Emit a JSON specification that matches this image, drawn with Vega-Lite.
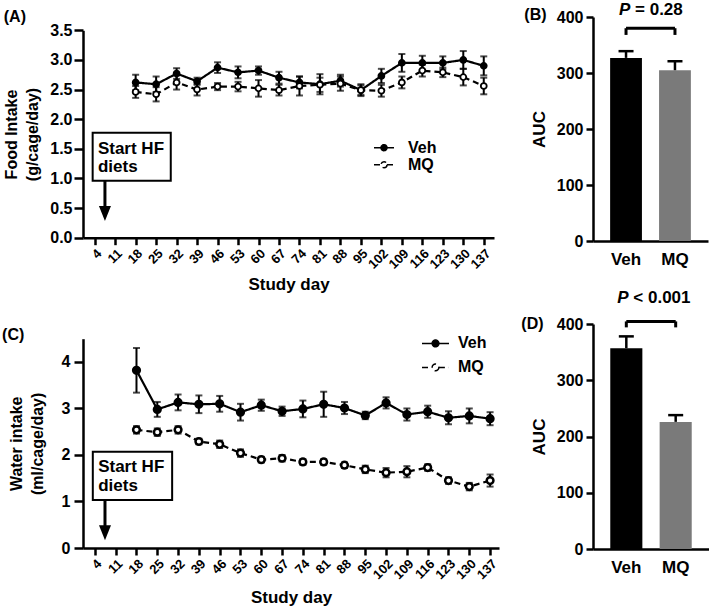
{
  "$schema": "https://vega.github.io/schema/vega-lite/v6.json",
  "padding": {"left": 2, "top": 0, "right": 0, "bottom": 0},
  "columns": 2,
  "spacing": {"row": 82, "column": 94},
  "bounds": "flush",
  "resolve": {
    "scale": {"strokeDash": "independent", "fill": "independent", "color": "independent"},
    "legend": {"strokeDash": "independent", "fill": "independent", "color": "independent"}
  },
  "datasets": {
    "food": [
      {"day": 18, "group": "Veh", "mean": 2.62, "se": 0.13},
      {"day": 25, "group": "Veh", "mean": 2.59, "se": 0.13},
      {"day": 32, "group": "Veh", "mean": 2.77, "se": 0.09},
      {"day": 39, "group": "Veh", "mean": 2.64, "se": 0.06},
      {"day": 46, "group": "Veh", "mean": 2.87, "se": 0.09},
      {"day": 53, "group": "Veh", "mean": 2.79, "se": 0.1},
      {"day": 60, "group": "Veh", "mean": 2.82, "se": 0.07},
      {"day": 67, "group": "Veh", "mean": 2.7, "se": 0.1},
      {"day": 74, "group": "Veh", "mean": 2.62, "se": 0.1},
      {"day": 81, "group": "Veh", "mean": 2.59, "se": 0.17},
      {"day": 88, "group": "Veh", "mean": 2.65, "se": 0.1},
      {"day": 95, "group": "Veh", "mean": 2.49, "se": 0.08},
      {"day": 102, "group": "Veh", "mean": 2.73, "se": 0.12},
      {"day": 109, "group": "Veh", "mean": 2.95, "se": 0.15},
      {"day": 116, "group": "Veh", "mean": 2.95, "se": 0.12},
      {"day": 123, "group": "Veh", "mean": 2.95, "se": 0.11},
      {"day": 130, "group": "Veh", "mean": 3.0, "se": 0.15},
      {"day": 137, "group": "Veh", "mean": 2.9, "se": 0.16},
      {"day": 18, "group": "MQ", "mean": 2.46, "se": 0.1},
      {"day": 25, "group": "MQ", "mean": 2.42, "se": 0.12},
      {"day": 32, "group": "MQ", "mean": 2.62, "se": 0.12},
      {"day": 39, "group": "MQ", "mean": 2.5, "se": 0.1},
      {"day": 46, "group": "MQ", "mean": 2.55, "se": 0.06},
      {"day": 53, "group": "MQ", "mean": 2.55, "se": 0.08},
      {"day": 60, "group": "MQ", "mean": 2.52, "se": 0.14},
      {"day": 67, "group": "MQ", "mean": 2.49, "se": 0.09},
      {"day": 74, "group": "MQ", "mean": 2.56, "se": 0.16},
      {"day": 81, "group": "MQ", "mean": 2.58, "se": 0.12},
      {"day": 88, "group": "MQ", "mean": 2.6, "se": 0.12},
      {"day": 95, "group": "MQ", "mean": 2.49, "se": 0.1},
      {"day": 102, "group": "MQ", "mean": 2.48, "se": 0.1},
      {"day": 109, "group": "MQ", "mean": 2.62, "se": 0.1},
      {"day": 116, "group": "MQ", "mean": 2.82, "se": 0.1},
      {"day": 123, "group": "MQ", "mean": 2.79, "se": 0.08},
      {"day": 130, "group": "MQ", "mean": 2.71, "se": 0.14},
      {"day": 137, "group": "MQ", "mean": 2.56, "se": 0.14}
    ],
    "water": [
      {"day": 18, "group": "Veh", "mean": 3.82, "se": 0.48},
      {"day": 25, "group": "Veh", "mean": 2.98, "se": 0.16},
      {"day": 32, "group": "Veh", "mean": 3.13, "se": 0.17},
      {"day": 39, "group": "Veh", "mean": 3.09, "se": 0.19},
      {"day": 46, "group": "Veh", "mean": 3.1, "se": 0.17},
      {"day": 53, "group": "Veh", "mean": 2.92, "se": 0.18},
      {"day": 60, "group": "Veh", "mean": 3.07, "se": 0.12},
      {"day": 67, "group": "Veh", "mean": 2.94, "se": 0.1},
      {"day": 74, "group": "Veh", "mean": 2.99, "se": 0.18},
      {"day": 81, "group": "Veh", "mean": 3.09, "se": 0.27},
      {"day": 88, "group": "Veh", "mean": 3.01, "se": 0.13},
      {"day": 95, "group": "Veh", "mean": 2.85, "se": 0.08},
      {"day": 102, "group": "Veh", "mean": 3.12, "se": 0.12},
      {"day": 109, "group": "Veh", "mean": 2.87, "se": 0.13},
      {"day": 116, "group": "Veh", "mean": 2.93, "se": 0.13},
      {"day": 123, "group": "Veh", "mean": 2.8, "se": 0.14},
      {"day": 130, "group": "Veh", "mean": 2.84, "se": 0.16},
      {"day": 137, "group": "Veh", "mean": 2.78, "se": 0.14},
      {"day": 18, "group": "MQ", "mean": 2.54, "se": 0.08},
      {"day": 25, "group": "MQ", "mean": 2.49, "se": 0.08},
      {"day": 32, "group": "MQ", "mean": 2.54, "se": 0.08},
      {"day": 39, "group": "MQ", "mean": 2.29, "se": 0.06},
      {"day": 46, "group": "MQ", "mean": 2.23, "se": 0.08},
      {"day": 53, "group": "MQ", "mean": 2.04, "se": 0.08},
      {"day": 60, "group": "MQ", "mean": 1.9, "se": 0.06},
      {"day": 67, "group": "MQ", "mean": 1.93, "se": 0.07},
      {"day": 74, "group": "MQ", "mean": 1.85, "se": 0.06},
      {"day": 81, "group": "MQ", "mean": 1.85, "se": 0.06},
      {"day": 88, "group": "MQ", "mean": 1.78, "se": 0.06},
      {"day": 95, "group": "MQ", "mean": 1.69, "se": 0.08},
      {"day": 102, "group": "MQ", "mean": 1.62, "se": 0.1},
      {"day": 109, "group": "MQ", "mean": 1.64, "se": 0.12},
      {"day": 116, "group": "MQ", "mean": 1.73, "se": 0.07},
      {"day": 123, "group": "MQ", "mean": 1.45, "se": 0.07},
      {"day": 130, "group": "MQ", "mean": 1.32, "se": 0.08},
      {"day": 137, "group": "MQ", "mean": 1.45, "se": 0.13}
    ],
    "aucFood": [
      {"group": "Veh", "auc": 327, "upper": 339},
      {"group": "MQ", "auc": 305, "upper": 321}
    ],
    "aucWater": [
      {"group": "Veh", "auc": 357, "upper": 378},
      {"group": "MQ", "auc": 226, "upper": 238}
    ]
  },
  "concat": [
    {
      "width": 411,
      "height": 225,
      "title": {"text": "(A)", "anchor": "start", "frame": "bounds", "offset": 0, "dy": 8, "fontSize": 16},
      "layer": [
        {
          "encoding": {
            "x": {"field": "day", "type": "quantitative", "scale": {"domain": [0, 140.5], "nice": false, "zero": false},
              "axis": {"values": [4, 11, 18, 25, 32, 39, 46, 53, 60, 67, 74, 81, 88, 95, 102, 109, 116, 123, 130, 137], "tickCount": 30, "format": "d",
                "labelAngle": -45, "labelFontSize": 13, "tickSize": 7, "labelPadding": 2, "labelFlush": false, "labelOverlap": false,
                "offset": -4.3, "title": "Study day", "titleFontSize": 17, "titlePadding": 5}},
            "y": {"field": "mean", "type": "quantitative", "scale": {"domain": [0, 3.5], "nice": false, "range": [220.7, 13.3]},
              "axis": {"values": [0, 0.5, 1, 1.5, 2, 2.5, 3, 3.5], "tickCount": 12, "format": ".1f", "tickSize": 9, "labelPadding": 2, "labelOverlap": false,
                "title": ["Food Intake", "(g/cage/day)"], "titleLineHeight": 21, "titlePadding": 9}}
          },
          "layer": [
            {
              "data": {"name": "food"},
              "mark": {"type": "errorbar", "color": "black", "ticks": {"size": 7, "thickness": 2}, "rule": {"strokeWidth": 2}},
              "encoding": {"yError": {"field": "se"}}
            },
            {
              "data": {"name": "food"},
              "mark": {"type": "line", "color": "black", "strokeWidth": 2.2},
              "encoding": {
                "strokeDash": {"field": "group", "type": "nominal", "scale": {"domain": ["Veh", "MQ"], "range": [[1, 0], [6, 4]]},
                  "legend": {"orient": "none", "legendX": 290, "legendY": 122.7, "title": null,
                    "symbolType": "M-1,0L-0.3,0M0.3,0L1,0M0.3,0A0.3,0.3 0 1 1 -0.3,0A0.3,0.3 0 1 1 0.3,0",
                    "symbolSize": 400, "clipHeight": 16, "rowPadding": 1, "labelOffset": 13,
                    "encode": {"symbols": {"update": {
                      "fill": {"signal": "datum.value === 'Veh' ? 'black' : 'white'"},
                      "stroke": {"value": "black"},
                      "strokeWidth": {"value": 2},
                      "size": {"value": 400},
                      "opacity": {"value": 1}}}}}}
              }
            },
            {
              "data": {"name": "food"},
              "mark": {"type": "point", "filled": true, "stroke": "black", "strokeWidth": 1.8, "size": 35, "opacity": 1},
              "encoding": {
                "fill": {"field": "group", "type": "nominal", "scale": {"domain": ["Veh", "MQ"], "range": ["black", "white"]}, "legend": null}
              }
            }
          ]
        },
        {
          "data": {"values": [{}]},
          "mark": {"type": "rect", "fill": "white", "stroke": "black", "strokeWidth": 2},
          "encoding": {
            "x": {"datum": 3.3, "type": "quantitative"}, "x2": {"datum": 30},
            "y": {"datum": 1.77, "type": "quantitative"}, "y2": {"datum": 0.96}
          }
        },
        {
          "data": {"values": [{}]},
          "mark": {"type": "text", "text": ["Start HF", "diets"], "align": "left", "baseline": "middle", "font": "Liberation Sans", "fontWeight": "bold", "fontSize": 17, "lineHeight": 18.5, "color": "black"},
          "encoding": {
            "x": {"datum": 5.1, "type": "quantitative"},
            "y": {"datum": 1.5, "type": "quantitative"}
          }
        },
        {
          "data": {"values": [{}]},
          "mark": {"type": "rule", "strokeWidth": 3, "color": "black"},
          "encoding": {
            "x": {"datum": 7.5, "type": "quantitative"},
            "y": {"datum": 0.96, "type": "quantitative"}, "y2": {"datum": 0.41}
          }
        },
        {
          "data": {"values": [{}]},
          "mark": {"type": "point", "shape": "M-0.8,-1L0.8,-1L0,1Z", "size": 225, "filled": true, "color": "black", "opacity": 1},
          "encoding": {
            "x": {"datum": 7.5, "type": "quantitative"},
            "y": {"datum": 0.41, "type": "quantitative"}
          }
        }
      ]
    },
    {
      "width": 115,
      "height": 225,
      "title": {"text": "(B)", "anchor": "start", "frame": "bounds", "offset": 0, "dx": -6, "dy": 22, "fontSize": 16},
      "layer": [
        {
          "data": {"name": "aucFood"},
          "mark": {"type": "bar"},
          "encoding": {
            "x": {"field": "group", "type": "nominal", "sort": ["Veh", "MQ"], "scale": {"paddingInner": 0.35, "paddingOuter": 0.35},
              "axis": {"title": null, "labelAngle": 0, "ticks": false, "tickSize": 0, "labelPadding": 10, "labelFontSize": 17, "offset": -1}},
            "y": {"field": "auc", "type": "quantitative", "scale": {"domain": [0, 400], "nice": false, "range": [224, 0]},
              "axis": {"values": [0, 100, 200, 300, 400], "tickCount": 10, "format": "d", "tickSize": 7, "labelPadding": 3, "title": "AUC", "titleFontSize": 17, "titlePadding": 8}},
            "color": {"field": "group", "type": "nominal", "scale": {"domain": ["Veh", "MQ"], "range": ["black", "#7a7a7a"]}, "legend": null}
          }
        },
        {
          "data": {"name": "aucFood"},
          "mark": {"type": "rule", "strokeWidth": 2.5, "color": "black"},
          "encoding": {
            "x": {"field": "group", "type": "nominal", "sort": ["Veh", "MQ"]},
            "y": {"field": "auc", "type": "quantitative"},
            "y2": {"field": "upper"}
          }
        },
        {
          "data": {"name": "aucFood"},
          "mark": {"type": "tick", "thickness": 2.5, "size": 15, "color": "black", "opacity": 1},
          "encoding": {
            "x": {"field": "group", "type": "nominal", "sort": ["Veh", "MQ"]},
            "y": {"field": "upper", "type": "quantitative"}
          }
        },
        {
          "data": {"values": [{}]},
          "mark": {"type": "rule", "strokeWidth": 3, "color": "black"},
          "encoding": {
            "x": {"datum": "Veh", "type": "nominal", "bandPosition": 0.5}, "x2": {"datum": "MQ", "bandPosition": 0.5},
            "y": {"datum": 380, "type": "quantitative"}
          }
        },
        {
          "data": {"values": [{}]},
          "mark": {"type": "rule", "strokeWidth": 3, "color": "black"},
          "encoding": {
            "x": {"datum": "Veh", "type": "nominal", "bandPosition": 0.5},
            "y": {"datum": 380, "type": "quantitative"}, "y2": {"datum": 368}
          }
        },
        {
          "data": {"values": [{}]},
          "mark": {"type": "rule", "strokeWidth": 3, "color": "black"},
          "encoding": {
            "x": {"datum": "MQ", "type": "nominal", "bandPosition": 0.5},
            "y": {"datum": 380, "type": "quantitative"}, "y2": {"datum": 368}
          }
        },
        {
          "data": {"values": [{}]},
          "mark": {"type": "text", "text": "P", "align": "left", "baseline": "middle", "dx": -7, "font": "Liberation Sans", "fontWeight": "bold", "fontStyle": "italic", "fontSize": 17, "color": "black"},
          "encoding": {
            "x": {"datum": "Veh", "type": "nominal", "bandPosition": 0.5},
            "y": {"datum": 413, "type": "quantitative"}
          }
        },
        {
          "data": {"values": [{}]},
          "mark": {"type": "text", "text": "= 0.28", "align": "left", "baseline": "middle", "dx": 9, "font": "Liberation Sans", "fontWeight": "bold", "fontSize": 17, "color": "black"},
          "encoding": {
            "x": {"datum": "Veh", "type": "nominal", "bandPosition": 0.5},
            "y": {"datum": 413, "type": "quantitative"}
          }
        }
      ]
    },
    {
      "width": 416,
      "height": 225,
      "title": {"text": "(C)", "anchor": "start", "frame": "bounds", "offset": 0, "dx": -6, "dy": 19, "fontSize": 16},
      "layer": [
        {
          "encoding": {
            "x": {"field": "day", "type": "quantitative", "scale": {"domain": [0, 140], "nice": false, "zero": false},
              "axis": {"values": [4, 11, 18, 25, 32, 39, 46, 53, 60, 67, 74, 81, 88, 95, 102, 109, 116, 123, 130, 137], "tickCount": 30, "format": "d",
                "labelAngle": -45, "labelFontSize": 13, "tickSize": 7, "labelPadding": 2, "labelFlush": false, "labelOverlap": false,
                "offset": -1, "title": "Study day", "titleFontSize": 17, "titlePadding": 8}},
            "y": {"field": "mean", "type": "quantitative", "scale": {"domain": [0, 4.5], "nice": false, "range": [224, 14.7]},
              "axis": {"values": [0, 1, 2, 3, 4], "tickCount": 10, "format": "d", "tickSize": 9, "labelPadding": 4, "labelOverlap": false,
                "title": ["Water intake", "(ml/cage/day)"], "titleLineHeight": 21, "titlePadding": 16}}
          },
          "layer": [
            {
              "data": {"name": "water"},
              "mark": {"type": "errorbar", "color": "black", "ticks": {"size": 7, "thickness": 2}, "rule": {"strokeWidth": 2}},
              "encoding": {"yError": {"field": "se"}}
            },
            {
              "data": {"name": "water"},
              "mark": {"type": "line", "color": "black", "strokeWidth": 2.2},
              "encoding": {
                "strokeDash": {"field": "group", "type": "nominal", "scale": {"domain": ["Veh", "MQ"], "range": [[1, 0], [6, 4]]},
                  "legend": {"orient": "none", "legendX": 338, "legendY": 4.9, "title": null,
                    "symbolType": "M-1,0L-0.25,0M0.25,0L1,0M0.25,0A0.25,0.25 0 1 1 -0.25,0A0.25,0.25 0 1 1 0.25,0",
                    "symbolSize": 729, "rowPadding": 1, "labelOffset": 8,
                    "encode": {"symbols": {"update": {
                      "fill": {"signal": "'black'"},
                      "stroke": {"value": "black"},
                      "strokeWidth": {"value": 2},
                      "size": {"value": 729},
                      "opacity": {"value": 1}}}}}}
              }
            },
            {
              "data": {"name": "water"},
              "mark": {"type": "point", "filled": true, "stroke": "black", "strokeWidth": 2.5, "size": 45, "opacity": 1},
              "encoding": {
                "fill": {"field": "group", "type": "nominal", "scale": {"domain": ["Veh", "MQ"], "range": ["black", "white"]}, "legend": null}
              }
            }
          ]
        },
        {
          "data": {"values": [{}]},
          "mark": {"type": "rect", "fill": "white", "stroke": "black", "strokeWidth": 2},
          "encoding": {
            "x": {"datum": 3.3, "type": "quantitative"}, "x2": {"datum": 30},
            "y": {"datum": 2.07, "type": "quantitative"}, "y2": {"datum": 1.03}
          }
        },
        {
          "data": {"values": [{}]},
          "mark": {"type": "text", "text": ["Start HF", "diets"], "align": "left", "baseline": "middle", "font": "Liberation Sans", "fontWeight": "bold", "fontSize": 17, "lineHeight": 19, "color": "black"},
          "encoding": {
            "x": {"datum": 5.1, "type": "quantitative"},
            "y": {"datum": 1.745, "type": "quantitative"}
          }
        },
        {
          "data": {"values": [{}]},
          "mark": {"type": "rule", "strokeWidth": 3, "color": "black"},
          "encoding": {
            "x": {"datum": 7.4, "type": "quantitative"},
            "y": {"datum": 1.03, "type": "quantitative"}, "y2": {"datum": 0.33}
          }
        },
        {
          "data": {"values": [{}]},
          "mark": {"type": "point", "shape": "M-0.8,-1L0.8,-1L0,1Z", "size": 225, "filled": true, "color": "black", "opacity": 1},
          "encoding": {
            "x": {"datum": 7.4, "type": "quantitative"},
            "y": {"datum": 0.33, "type": "quantitative"}
          }
        }
      ]
    },
    {
      "width": 116,
      "height": 225,
      "title": {"text": "(D)", "anchor": "start", "frame": "bounds", "offset": 0, "dx": -9, "dy": 43, "fontSize": 16},
      "layer": [
        {
          "data": {"name": "aucWater"},
          "mark": {"type": "bar"},
          "encoding": {
            "x": {"field": "group", "type": "nominal", "sort": ["Veh", "MQ"], "scale": {"paddingInner": 0.35, "paddingOuter": 0.35},
              "axis": {"title": null, "labelAngle": 0, "ticks": false, "tickSize": 0, "labelPadding": 10, "labelFontSize": 17}},
            "y": {"field": "auc", "type": "quantitative", "scale": {"domain": [0, 400], "nice": false},
              "axis": {"values": [0, 100, 200, 300, 400], "tickCount": 10, "format": "d", "tickSize": 7, "labelPadding": 3, "title": "AUC", "titleFontSize": 17, "titlePadding": 8}},
            "color": {"field": "group", "type": "nominal", "scale": {"domain": ["Veh", "MQ"], "range": ["black", "#7a7a7a"]}, "legend": null}
          }
        },
        {
          "data": {"name": "aucWater"},
          "mark": {"type": "rule", "strokeWidth": 2.5, "color": "black"},
          "encoding": {
            "x": {"field": "group", "type": "nominal", "sort": ["Veh", "MQ"]},
            "y": {"field": "auc", "type": "quantitative"},
            "y2": {"field": "upper"}
          }
        },
        {
          "data": {"name": "aucWater"},
          "mark": {"type": "tick", "thickness": 2.5, "size": 15, "color": "black", "opacity": 1},
          "encoding": {
            "x": {"field": "group", "type": "nominal", "sort": ["Veh", "MQ"]},
            "y": {"field": "upper", "type": "quantitative"}
          }
        },
        {
          "data": {"values": [{}]},
          "mark": {"type": "rule", "strokeWidth": 3, "color": "black"},
          "encoding": {
            "x": {"datum": "Veh", "type": "nominal", "bandPosition": 0.5}, "x2": {"datum": "MQ", "bandPosition": 0.5},
            "y": {"datum": 404.6, "type": "quantitative"}
          }
        },
        {
          "data": {"values": [{}]},
          "mark": {"type": "rule", "strokeWidth": 3, "color": "black"},
          "encoding": {
            "x": {"datum": "Veh", "type": "nominal", "bandPosition": 0.5},
            "y": {"datum": 404.6, "type": "quantitative"}, "y2": {"datum": 394}
          }
        },
        {
          "data": {"values": [{}]},
          "mark": {"type": "rule", "strokeWidth": 3, "color": "black"},
          "encoding": {
            "x": {"datum": "MQ", "type": "nominal", "bandPosition": 0.5},
            "y": {"datum": 404.6, "type": "quantitative"}, "y2": {"datum": 394}
          }
        },
        {
          "data": {"values": [{}]},
          "mark": {"type": "text", "text": "P", "align": "left", "baseline": "middle", "dx": -9, "font": "Liberation Sans", "fontWeight": "bold", "fontStyle": "italic", "fontSize": 17, "color": "black"},
          "encoding": {
            "x": {"datum": "Veh", "type": "nominal", "bandPosition": 0.5},
            "y": {"datum": 447, "type": "quantitative"}
          }
        },
        {
          "data": {"values": [{}]},
          "mark": {"type": "text", "text": "< 0.001", "align": "left", "baseline": "middle", "dx": 7, "font": "Liberation Sans", "fontWeight": "bold", "fontSize": 17, "color": "black"},
          "encoding": {
            "x": {"datum": "Veh", "type": "nominal", "bandPosition": 0.5},
            "y": {"datum": 447, "type": "quantitative"}
          }
        }
      ]
    }
  ],
  "config": {
    "view": {"stroke": null},
    "font": "Liberation Sans",
    "title": {"font": "Liberation Sans", "fontWeight": "bold", "color": "black"},
    "axis": {
      "grid": false,
      "labelOverlap": false,
      "labelFlush": false,
      "domainColor": "black", "domainWidth": 2.5,
      "tickColor": "black", "tickWidth": 2.5,
      "labelColor": "black", "titleColor": "black",
      "labelFont": "Liberation Sans", "titleFont": "Liberation Sans",
      "labelFontWeight": "bold", "titleFontWeight": "bold",
      "labelFontSize": 16, "titleFontSize": 16
    },
    "legend": {"labelFont": "Liberation Sans", "labelFontWeight": "bold", "labelFontSize": 16, "labelColor": "black"}
  }
}
